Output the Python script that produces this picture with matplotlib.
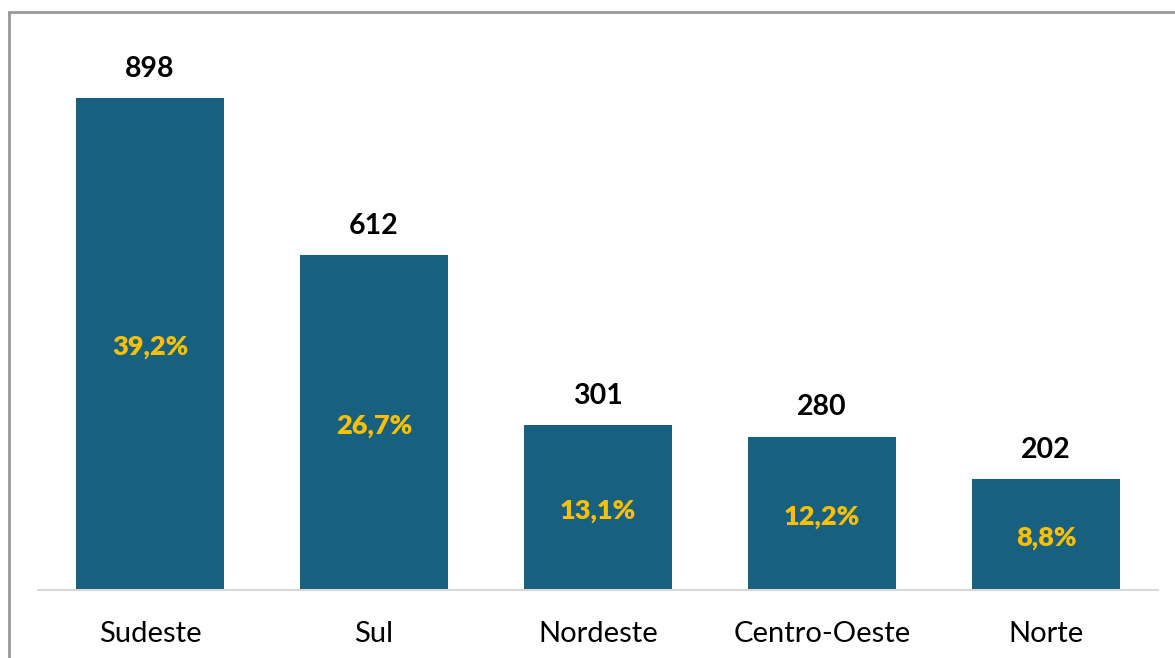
import matplotlib.pyplot as plt
from matplotlib.patches import Rectangle

regions = ["Sudeste", "Sul", "Nordeste", "Centro-Oeste", "Norte"]
counts = [898, 612, 301, 280, 202]
shares = ["39,2%", "26,7%", "13,1%", "12,2%", "8,8%"]

bar_color = "#17607f"
pct_color = "#ffc000"

plt.rcParams["font.family"] = ["Lato", "DejaVu Sans"]

fig = plt.figure(figsize=(11.75, 6.58), dpi=100)
ax = fig.add_axes([38 / 1175, 68 / 658, 1120 / 1175, 578 / 658])

x = range(len(regions))
bars = ax.bar(x, counts, width=0.665, color=bar_color)

for rect, n, p in zip(bars, counts, shares):
    cx = rect.get_x() + rect.get_width() / 2
    ax.annotate(str(n), (cx, n), xytext=(0, 21), textcoords="offset points",
                ha="center", va="center", fontsize=20.5, fontweight="bold", color="black")
    ax.annotate(p, (cx, n / 2), xytext=(0, -2.5), textcoords="offset points",
                ha="center", va="center", fontsize=19.5,
                fontweight="heavy", color=pct_color)

ax.set_xlim(-0.5, len(regions) - 0.5)
ax.set_ylim(0, 1055)
ax.set_xticks(list(x))
ax.set_xticklabels(regions, fontsize=21)
ax.tick_params(axis="x", length=0, pad=22)
ax.set_yticks([])
for side in ["top", "right", "left"]:
    ax.spines[side].set_visible(False)
ax.spines["bottom"].set_color("#d9d9d9")
ax.spines["bottom"].set_linewidth(1.5)

# outer chart frame (cut off on right and bottom)
fig.patches.append(Rectangle((9 / 1175, -0.1), 2, 1 - 12 / 658 + 0.1,
                             transform=fig.transFigure, fill=False,
                             edgecolor="#999999", linewidth=2))

fig.savefig("out.png", dpi=100)
